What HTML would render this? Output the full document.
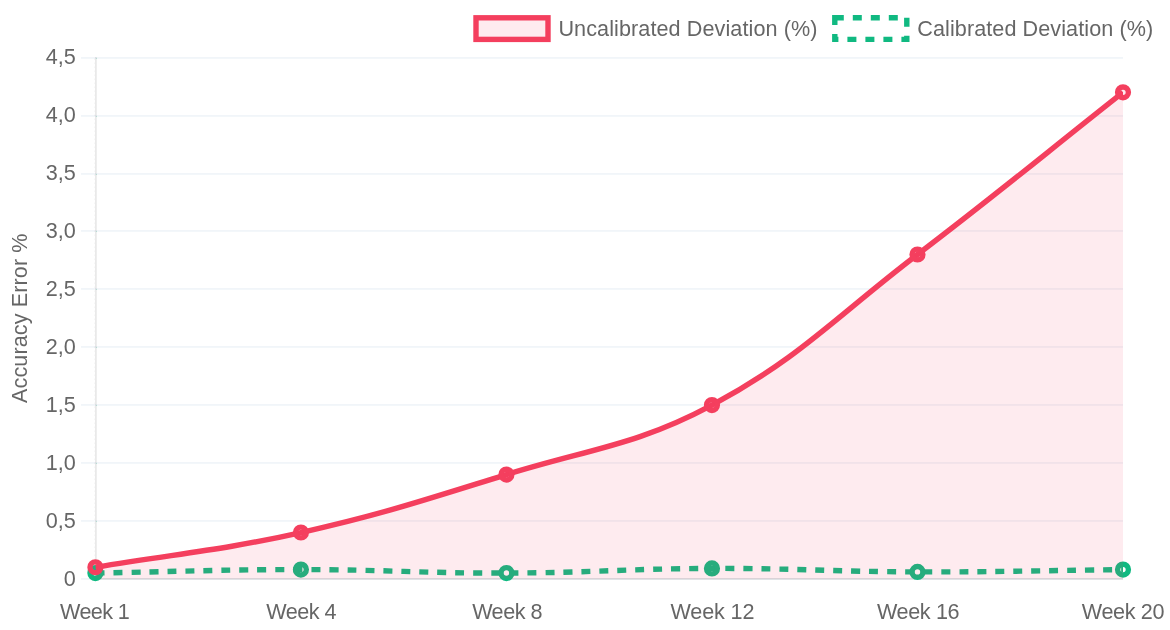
<!DOCTYPE html><html><head><meta charset="utf-8"><title>Chart</title><style>html,body{margin:0;padding:0;background:#fff}svg{display:block}text{font-family:"Liberation Sans",sans-serif;font-size:21.6px;fill:#666}</style></head><body>
<svg width="1170" height="630" viewBox="0 0 1170 630">
<defs><clipPath id="ca"><rect x="95.40" y="57.60" width="1027.60" height="521.25"/></clipPath></defs>
<rect x="81" y="578" width="1042.0" height="1.8" fill="#f1f5f9"/>
<rect x="81" y="520" width="1042.0" height="1.8" fill="#f1f5f9"/>
<rect x="81" y="462" width="1042.0" height="1.8" fill="#f1f5f9"/>
<rect x="81" y="404" width="1042.0" height="1.8" fill="#f1f5f9"/>
<rect x="81" y="346" width="1042.0" height="1.8" fill="#f1f5f9"/>
<rect x="81" y="288" width="1042.0" height="1.8" fill="#f1f5f9"/>
<rect x="81" y="230" width="1042.0" height="1.8" fill="#f1f5f9"/>
<rect x="81" y="173" width="1042.0" height="1.8" fill="#f1f5f9"/>
<rect x="81" y="115" width="1042.0" height="1.8" fill="#f1f5f9"/>
<rect x="81" y="57" width="1042.0" height="1.8" fill="#f1f5f9"/>
<rect x="95" y="57" width="1.8" height="522.8" fill="rgba(0,0,0,0.085)"/>
<line x1="94.5" x2="94.5" y1="58.7" y2="578" stroke="rgba(0,0,0,0.05)" stroke-width="1" stroke-dasharray="1 3"/>
<rect x="95" y="578" width="1028.0" height="1.8" fill="rgba(0,0,0,0.1)"/>
<rect x="96" y="579" width="0.8" height="0.9" fill="#10b981" fill-opacity="0.28"/>
<rect x="96" y="521" width="0.8" height="0.9" fill="#10b981" fill-opacity="0.28"/>
<rect x="96" y="463" width="0.8" height="0.9" fill="#10b981" fill-opacity="0.28"/>
<rect x="96" y="405" width="0.8" height="0.9" fill="#10b981" fill-opacity="0.28"/>
<rect x="96" y="347" width="0.8" height="0.9" fill="#10b981" fill-opacity="0.28"/>
<rect x="96" y="289" width="0.8" height="0.9" fill="#10b981" fill-opacity="0.28"/>
<rect x="96" y="231" width="0.8" height="0.9" fill="#10b981" fill-opacity="0.28"/>
<rect x="96" y="174" width="0.8" height="0.9" fill="#10b981" fill-opacity="0.28"/>
<rect x="96" y="116" width="0.8" height="0.9" fill="#10b981" fill-opacity="0.28"/>
<rect x="96" y="58" width="0.8" height="0.9" fill="#10b981" fill-opacity="0.28"/>
<g clip-path="url(#ca)"><path d="M95.40 573.06 C177.61 571.67 218.71 569.58 300.92 569.58 C383.13 569.58 424.24 573.29 506.44 573.06 C588.65 572.83 629.75 568.66 711.96 568.43 C794.16 568.19 835.27 571.67 917.48 571.90 C999.68 572.13 1040.79 570.51 1123.00 569.58" fill="none" stroke="#10b981" stroke-width="5.4" stroke-dasharray="9 9"/></g>
<circle cx="95.40" cy="573.06" r="5.4" fill="none" stroke="#10b981" stroke-width="5.4"/>
<circle cx="300.92" cy="569.58" r="5.4" fill="none" stroke="#10b981" stroke-width="5.4"/>
<circle cx="506.44" cy="573.06" r="5.4" fill="none" stroke="#10b981" stroke-width="5.4"/>
<circle cx="711.96" cy="568.43" r="5.4" fill="none" stroke="#10b981" stroke-width="5.4"/>
<circle cx="917.48" cy="571.90" r="5.4" fill="none" stroke="#10b981" stroke-width="5.4"/>
<circle cx="1123.00" cy="569.58" r="5.4" fill="none" stroke="#10b981" stroke-width="5.4"/>
<g clip-path="url(#ca)"><path d="M95.40 567.27 C177.61 553.37 219.70 550.83 300.92 532.52 C384.12 513.76 424.89 499.88 506.44 474.60 C589.30 448.91 636.34 445.59 711.96 405.10 C800.76 357.55 836.39 316.22 917.48 254.52 C1000.80 191.12 1040.79 157.22 1123.00 92.35 L1123.00 578.85 L95.40 578.85 Z" fill="rgba(244,63,94,0.1)"/><path d="M95.40 567.27 C177.61 553.37 219.70 550.83 300.92 532.52 C384.12 513.76 424.89 499.88 506.44 474.60 C589.30 448.91 636.34 445.59 711.96 405.10 C800.76 357.55 836.39 316.22 917.48 254.52 C1000.80 191.12 1040.79 157.22 1123.00 92.35" fill="none" stroke="#f43f5e" stroke-width="5.4"/></g>
<circle cx="95.40" cy="567.27" r="5.4" fill="rgba(244,63,94,0.1)" stroke="#f43f5e" stroke-width="5.4"/>
<circle cx="300.92" cy="532.52" r="5.4" fill="rgba(244,63,94,0.1)" stroke="#f43f5e" stroke-width="5.4"/>
<circle cx="506.44" cy="474.60" r="5.4" fill="rgba(244,63,94,0.1)" stroke="#f43f5e" stroke-width="5.4"/>
<circle cx="711.96" cy="405.10" r="5.4" fill="rgba(244,63,94,0.1)" stroke="#f43f5e" stroke-width="5.4"/>
<circle cx="917.48" cy="254.52" r="5.4" fill="rgba(244,63,94,0.1)" stroke="#f43f5e" stroke-width="5.4"/>
<circle cx="1123.00" cy="92.35" r="5.4" fill="rgba(244,63,94,0.1)" stroke="#f43f5e" stroke-width="5.4"/>
<rect x="476.0" y="17.8" width="72" height="21.6" fill="rgba(244,63,94,0.1)" stroke="#f43f5e" stroke-width="5.4"/>
<text x="558.4" y="36.3" style="letter-spacing:0.09px">Uncalibrated Deviation (%)</text>
<rect x="834.8" y="17.8" width="72" height="21.6" fill="none" stroke="#10b981" stroke-width="5.4" stroke-dasharray="9 9"/>
<text x="917.3" y="36.3" style="letter-spacing:0.08px">Calibrated Deviation (%)</text>
<text x="75.8" y="585.65" text-anchor="end">0</text>
<text x="75.8" y="527.73" text-anchor="end">0,5</text>
<text x="75.8" y="469.82" text-anchor="end">1,0</text>
<text x="75.8" y="411.90" text-anchor="end">1,5</text>
<text x="75.8" y="353.98" text-anchor="end">2,0</text>
<text x="75.8" y="296.07" text-anchor="end">2,5</text>
<text x="75.8" y="238.15" text-anchor="end">3,0</text>
<text x="75.8" y="180.23" text-anchor="end">3,5</text>
<text x="75.8" y="122.32" text-anchor="end">4,0</text>
<text x="75.8" y="64.40" text-anchor="end">4,5</text>
<text x="94.60" y="618.7" text-anchor="middle" style="letter-spacing:-0.6px">Week 1</text>
<text x="301.12" y="618.7" text-anchor="middle" style="letter-spacing:-0.55px">Week 4</text>
<text x="507.04" y="618.7" text-anchor="middle" style="letter-spacing:-0.5px">Week 8</text>
<text x="712.36" y="618.7" text-anchor="middle" style="letter-spacing:-0.15px">Week 12</text>
<text x="918.08" y="618.7" text-anchor="middle" style="letter-spacing:-0.35px">Week 16</text>
<text x="1123.00" y="618.7" text-anchor="middle" style="letter-spacing:-0.35px">Week 20</text>
<text transform="translate(26.6 318.2) rotate(-90)" text-anchor="middle" style="letter-spacing:0.1px">Accuracy Error %</text>
</svg></body></html>
